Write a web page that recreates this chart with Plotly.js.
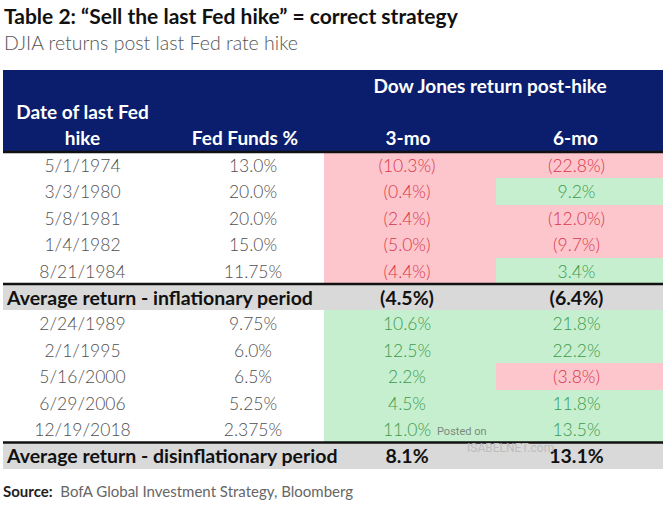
<!DOCTYPE html>
<html><head><meta charset="utf-8">
<script src="https://cdn.plot.ly/plotly-3.0.1.min.js"></script>
<style>html,body{margin:0;padding:0;background:#fff}#chart{width:670px;height:505px}</style>
</head><body><div id="chart"></div>
<script>
// ---------- data ----------
const titleText = 'Table 2: \u201cSell the last Fed hike\u201d = correct strategy';
const subtitleText = 'DJIA returns post last Fed rate hike';
const sourceLabel = 'Source:';
const sourceText = 'BofA Global Investment Strategy, Bloomberg';
const groupHeader = 'Dow Jones return post-hike';
const dateHeader = ['Date of last Fed', 'hike'];
const fundsHeader = 'Fed Funds %';
const horizonHeaders = ['3-mo', '6-mo'];

const inflDates = ['5/1/1974', '3/3/1980', '5/8/1981', '1/4/1982', '8/21/1984'];
const inflFedFunds = ['13.0%', '20.0%', '20.0%', '15.0%', '11.75%'];
const inflRet3m = [-10.3, -0.4, -2.4, -5.0, -4.4];
const inflRet6m = [-22.8, 9.2, -12.0, -9.7, 3.4];

const disinflDates = ['2/24/1989', '2/1/1995', '5/16/2000', '6/29/2006', '12/19/2018'];
const disinflFedFunds = ['9.75%', '6.0%', '6.5%', '5.25%', '2.375%'];
const disinflRet3m = [10.6, 12.5, 2.2, 4.5, 11.0];
const disinflRet6m = [21.8, 22.2, -3.8, 11.8, 13.5];

const avgLabels = ['Average return - inflationary period', 'Average return - disinflationary period'];
const avgRet3m = [-4.5, 8.1];
const avgRet6m = [-6.4, 13.1];

const watermark = ['Posted on', 'ISABELNET.com'];

// ---------- layout constants ----------
const W = 670, H = 505;
const TABLE_LEFT = 3, TABLE_TOP = 70;
const COL_W = [159, 162, 172, 167];
const HEADER_H = 82, ROW_H = 26.4;
const TEXT_DY = 2.5;
const FONT = 'Lato, "Open Sans", sans-serif';
const NAVY = '#0b1e6d', PINK = '#fdc6cc', GREEN = '#c6efcf', GREY = '#d9d9d9';
const RED_TXT = '#d6384d', GREEN_TXT = '#3c9a4c', DATA_TXT = '#505050';

// ---------- build geometry ----------
const xEdges = [TABLE_LEFT];
COL_W.forEach(w => xEdges.push(xEdges[xEdges.length - 1] + w));
const colCenter = COL_W.map((w, i) => xEdges[i] + w / 2);

const groups = [
  {dates: inflDates, funds: inflFedFunds, r3: inflRet3m, r6: inflRet6m},
  {dates: disinflDates, funds: disinflFedFunds, r3: disinflRet3m, r6: disinflRet6m}
];

const fmt = v => v < 0 ? '(' + Math.abs(v).toFixed(1) + '%)' : v.toFixed(1) + '%';

const yEdges = [TABLE_TOP, TABLE_TOP + HEADER_H];
const z = [[4, 4, 4, 4]];
const dataRowY = [], dataDates = [], dataFunds = [], data3 = [], data6 = [];
const avgRowY = [], sepY = [TABLE_TOP + HEADER_H];
groups.forEach((g) => {
  g.dates.forEach((d, i) => {
    const top = yEdges[yEdges.length - 1];
    yEdges.push(top + ROW_H);
    dataRowY.push(top + ROW_H / 2 + TEXT_DY);
    dataDates.push(d); dataFunds.push(g.funds[i]);
    data3.push(g.r3[i]); data6.push(g.r6[i]);
    z.push([0, 0, g.r3[i] < 0 ? 2 : 3, g.r6[i] < 0 ? 2 : 3]);
  });
  const top = yEdges[yEdges.length - 1];
  sepY.push(top);
  yEdges.push(top + ROW_H);
  avgRowY.push(top + ROW_H / 2 + TEXT_DY);
  z.push([1, 1, 1, 1]);
});

const traces = [];
traces.push({
  type: 'heatmap', x: xEdges, y: yEdges, z: z, zmin: 0, zmax: 4,
  colorscale: [[0, '#ffffff'], [0.25, GREY], [0.5, PINK], [0.75, GREEN], [1, NAVY]],
  showscale: false, hoverinfo: 'skip', xgap: 0, ygap: 0
});

function textTrace(xs, ys, texts, font, pos) {
  return {
    type: 'scatter', mode: 'text', x: xs, y: ys, text: texts,
    textposition: pos || 'middle center', textfont: Object.assign({family: FONT}, font),
    hoverinfo: 'skip', cliponaxis: false, showlegend: false
  };
}

// header texts
const hdrLineY = [TABLE_TOP + 18, TABLE_TOP + 44, TABLE_TOP + 70];
traces.push(textTrace(
  [xEdges[3] - 6, colCenter[0], colCenter[0], colCenter[1] + 2, colCenter[2] - 2, colCenter[3] - 4],
  [hdrLineY[0], hdrLineY[1], hdrLineY[2], hdrLineY[2], hdrLineY[2], hdrLineY[2]],
  [groupHeader, dateHeader[0], dateHeader[1], fundsHeader, horizonHeaders[0], horizonHeaders[1]],
  {size: 19, color: '#ffffff', weight: 700}));

// data rows
const dataFont = {size: 17.5, color: DATA_TXT, weight: 300};
traces.push(textTrace(dataDates.map(() => colCenter[0]), dataRowY, dataDates, dataFont));
traces.push(textTrace(dataFunds.map(() => colCenter[1] + 10), dataRowY, dataFunds, dataFont));
traces.push(textTrace(data3.map(() => colCenter[2] - 3), dataRowY, data3.map(fmt),
  {size: 17.5, weight: 300, color: data3.map(v => v < 0 ? RED_TXT : GREEN_TXT)}));
traces.push(textTrace(data6.map(() => colCenter[3] - 3), dataRowY, data6.map(fmt),
  {size: 17.5, weight: 300, color: data6.map(v => v < 0 ? RED_TXT : GREEN_TXT)}));

// average rows
const avgFont = {size: 19.5, color: '#111111', weight: 700};
traces.push(textTrace(avgLabels.map(() => TABLE_LEFT + 4), avgRowY, avgLabels, avgFont, 'middle right'));
traces.push(textTrace(avgRet3m.map(() => colCenter[2] - 3), avgRowY, avgRet3m.map(fmt), avgFont));
traces.push(textTrace(avgRet6m.map(() => colCenter[3] - 3), avgRowY, avgRet6m.map(fmt), avgFont));

const shapes = sepY.map(y => ({
  type: 'line', xref: 'x', yref: 'y', x0: xEdges[0], x1: xEdges[xEdges.length - 1],
  y0: y, y1: y, line: {color: '#111111', width: 2.5}
}));

const annotations = [
  {x: TABLE_LEFT - 1, y: 15, xref: 'x', yref: 'y', xanchor: 'left', yanchor: 'middle', showarrow: false,
   text: titleText, font: {family: FONT, size: 21, color: '#111111', weight: 700}},
  {x: TABLE_LEFT - 1, y: 42, xref: 'x', yref: 'y', xanchor: 'left', yanchor: 'middle', showarrow: false,
   text: subtitleText, font: {family: FONT, size: 19.5, color: '#555555', weight: 300}},
  {x: TABLE_LEFT - 2, y: 491, xref: 'x', yref: 'y', xanchor: 'left', yanchor: 'middle', showarrow: false,
   text: '<span style="color:#222"><b>' + sourceLabel + '</b></span>  ' + sourceText,
   font: {family: FONT, size: 15, color: '#666666'}},
  {x: colCenter[2] + 52, y: dataRowY[dataRowY.length - 1], xref: 'x', yref: 'y', showarrow: false,
   text: watermark[0], font: {family: 'Roboto, sans-serif', size: 11, color: '#7a8a7e'}},
  {x: colCenter[2] + 100, y: avgRowY[1] - 10, xref: 'x', yref: 'y', showarrow: false,
   text: watermark[1], font: {family: 'Roboto, sans-serif', size: 12, color: '#bdbdbd'}}
];

const layout = {
  width: W, height: H, margin: {l: 0, r: 0, t: 0, b: 0},
  paper_bgcolor: '#ffffff', plot_bgcolor: '#ffffff', showlegend: false,
  xaxis: {range: [0, W], visible: false, fixedrange: true},
  yaxis: {range: [H, 0], visible: false, fixedrange: true},
  shapes: shapes, annotations: annotations
};

Plotly.newPlot('chart', traces, layout, {displayModeBar: false, staticPlot: true});
</script></body></html>
